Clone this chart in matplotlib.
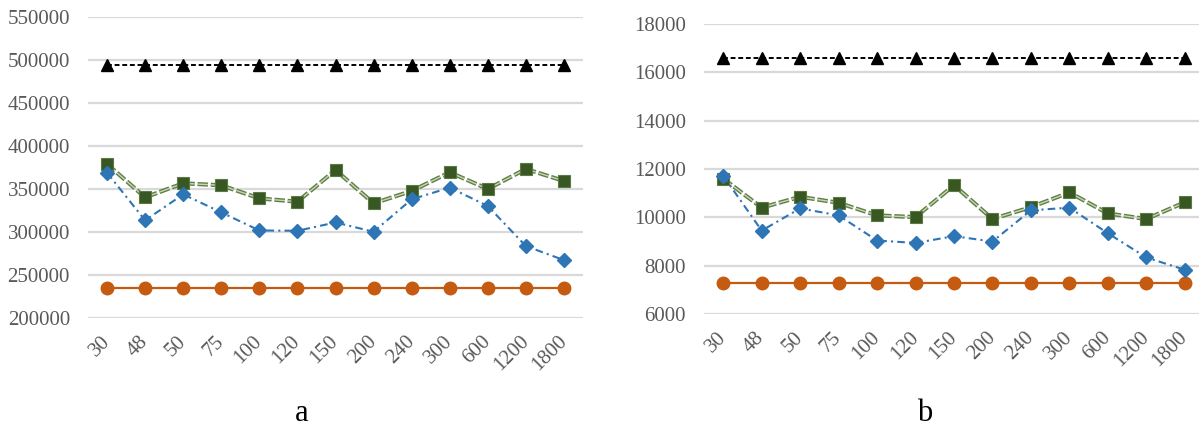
import matplotlib
matplotlib.use("Agg")
import matplotlib.pyplot as plt
import matplotlib.patheffects as pe

plt.rcParams['font.family'] = ['Liberation Serif', 'DejaVu Serif']
plt.rcParams['lines.scale_dashes'] = False

categories = ["30", "48", "50", "75", "100", "120", "150", "200", "240", "300", "600", "1200", "1800"]

# panel a
a_black = [494000] * 13
a_green = [379000, 340300, 356600, 354300, 339100, 335200, 372100, 333300, 347700, 369400, 350000, 373300, 359300]
a_blue = [369000, 313500, 343800, 322800, 301800, 301400, 311100, 300300, 338000, 351600, 330200, 283600, 267300]
a_orange = [234600] * 13
a_ticks = [200000, 250000, 300000, 350000, 400000, 450000, 500000, 550000]

# panel b
b_black = [16600] * 13
b_green = [11600, 10400, 10850, 10600, 10080, 10010, 11330, 9930, 10420, 11030, 10160, 9930, 10620]
b_blue = [11720, 9450, 10370, 10080, 9040, 8940, 9220, 9000, 10290, 10400, 9340, 8340, 7830]
b_orange = [7300] * 13
b_ticks = [6000, 8000, 10000, 12000, 14000, 16000, 18000]

TICK_COLOR = "#595959"
GRID_COLOR = "#D9D9D9"


def draw_panel(ax, black, green, blue, orange, yticks, label, label_x):
    x = list(range(len(categories)))
    # constant reference lines
    ax.plot(x, black, color="black", lw=1.4, dashes=(3.5, 2.0),
            marker="^", ms=9, mfc="black", mec="black", zorder=3)
    ax.plot(x, orange, color="#C55A11", lw=1.6, marker="o", ms=9,
            mfc="#C55A11", mec="#C55A11", zorder=3)
    # green series: double-stroke long dashes
    ax.plot(x, green, color="#c9d6b6", lw=1.0, dashes=(7.5, 2.0), zorder=3,
            path_effects=[pe.Stroke(linewidth=3.0, foreground="#5f7f45"), pe.Normal()])
    ax.plot(x, green, ls="none", marker="s", ms=8.5, mfc="#385723",
            mec="#5a7a45", mew=0.8, zorder=4)
    # blue series: dash-dot
    ax.plot(x, blue, color="#2E75B6", lw=1.5, dashes=(5.5, 3.0, 1.5, 3.0),
            marker="D", ms=7.5, mfc="#2E75B6", mec="#2E75B6", zorder=5)

    ax.set_xlim(-0.5, len(categories) - 0.5)
    ax.set_ylim(yticks[0], yticks[-1])
    ax.set_yticks(yticks)
    ax.set_yticklabels([str(t) for t in yticks])
    ax.set_xticks(x)
    ax.set_xticklabels(categories, rotation=45, ha="right", va="center",
                       rotation_mode="anchor")
    ax.grid(axis="y", color=GRID_COLOR, lw=1.6)
    ax.set_axisbelow(True)
    for s in ax.spines.values():
        s.set_visible(False)
    ax.tick_params(axis="both", length=0, labelsize=15, colors=TICK_COLOR)
    ax.tick_params(axis="y", pad=13)
    ax.tick_params(axis="x", pad=15)
    ax.text(label_x, 0.045, label, transform=ax.figure.transFigure,
            ha="center", va="center", fontsize=22, color="black")


fig = plt.figure(figsize=(11.99, 4.33), dpi=100)
ax1 = fig.add_axes([88 / 1199, 1 - 318 / 433, 495 / 1199, 301 / 433])
ax2 = fig.add_axes([704 / 1199, 1 - 314 / 433, 500 / 1199, 290 / 433])

draw_panel(ax1, a_black, a_green, a_blue, a_orange, a_ticks, "a", 302 / 1199)
draw_panel(ax2, b_black, b_green, b_blue, b_orange, b_ticks, "b", 925 / 1199)

fig.savefig("out.png", dpi=100)
